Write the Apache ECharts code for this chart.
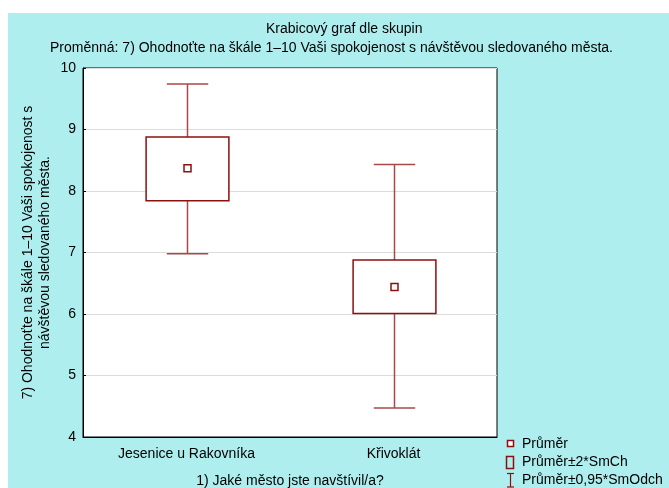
<!DOCTYPE html>
<html>
<head>
<meta charset="utf-8">
<script src="https://cdn.jsdelivr.net/npm/echarts@6/dist/echarts.min.js"></script>
<style>
  html, body { margin: 0; padding: 0; background: #fff; }
  #bg { position: absolute; left: 8px; top: 13px; width: 661px; height: 475px; background: #afeeee; }
  #chart { position: absolute; left: 0; top: 0; width: 669px; height: 488px; }
</style>
</head>
<body>
<div id="bg"></div>
<div id="chart"></div>
<script>
// skupiny a hodnoty
const categories = ['Jesenice u Rakovníka', 'Křivoklát']
const means = [8.37, 6.44]
const boxLow = [7.84, 6.01]    // průměr - 2*SmCh
const boxHigh = [8.88, 6.88]   // průměr + 2*SmCh
const whiskerLow = [6.98, 4.47]  // průměr - 0,95*SmOdch
const whiskerHigh = [9.74, 8.43] // průměr + 0,95*SmOdch
const yTicks = [4, 5, 6, 7, 8, 9, 10]

const boxColor = '#8b1010'
const whiskerColor = '#a84848'
const font = 'Liberation Sans, Arial, sans-serif'

const seriesData = categories.map((c, i) => [i, whiskerLow[i], boxLow[i], means[i], boxHigh[i], whiskerHigh[i]])

function renderBox (params, api) {
  const x = api.value(0)
  const band = api.size([1, 0])[0]
  const half = band * 0.2
  const cap = band * 0.1
  const pWL = api.coord([x, api.value(1)])
  const pBL = api.coord([x, api.value(2)])
  const pM = api.coord([x, api.value(3)])
  const pBH = api.coord([x, api.value(4)])
  const pWH = api.coord([x, api.value(5)])
  const cx = Math.round(pM[0]) + 0.5
  const line = { stroke: whiskerColor, lineWidth: 1.5 }
  return {
    type: 'group',
    children: [
      { type: 'line', shape: { x1: cx, y1: pWH[1], x2: cx, y2: pBH[1] }, style: line },
      { type: 'line', shape: { x1: cx, y1: pBL[1], x2: cx, y2: pWL[1] }, style: line },
      { type: 'line', shape: { x1: cx - cap, y1: pWH[1], x2: cx + cap, y2: pWH[1] }, style: line },
      { type: 'line', shape: { x1: cx - cap, y1: pWL[1], x2: cx + cap, y2: pWL[1] }, style: line },
      { type: 'rect', shape: { x: cx - half, y: pBH[1], width: half * 2, height: pBL[1] - pBH[1] },
        style: { fill: '#fff', stroke: boxColor, lineWidth: 1.5 } },
      { type: 'rect', shape: { x: cx - 3.5, y: pM[1] - 3.5, width: 7, height: 7 },
        style: { fill: '#fff', stroke: boxColor, lineWidth: 1.5 } }
    ]
  }
}

const legendItems = [
  { text: 'Průměr', y: 444 },
  { text: 'Průměr±2*SmCh', y: 462 },
  { text: 'Průměr±0,95*SmOdch', y: 480 }
]

const chart = echarts.init(document.getElementById('chart'))
chart.setOption({
  backgroundColor: 'transparent',
  animation: false,
  title: [{
    text: 'Krabicový graf dle skupin',
    left: 261,
    top: 17,
    textStyle: { fontFamily: font, fontSize: 14, fontWeight: 'normal', color: '#000' }
  }, {
    text: 'Proměnná: 7) Ohodnoťte na škále 1–10 Vaši spokojenost s návštěvou sledovaného města.',
    left: 45,
    top: 36,
    textStyle: { fontFamily: font, fontSize: 14, fontWeight: 'normal', color: '#000' }
  }],
  grid: {
    left: 83, right: 172, top: 68, bottom: 51,
    outerBoundsMode: 'none',
    show: true, backgroundColor: '#fff', borderColor: '#000', borderWidth: 1
  },
  xAxis: {
    type: 'category',
    data: categories,
    name: '1) Jaké město jste navštívil/a?',
    nameLocation: 'middle',
    nameGap: 37,
    nameMoveOverlap: false,
    nameTextStyle: { fontFamily: font, fontSize: 14, color: '#000' },
    axisLine: { lineStyle: { color: '#000' } },
    axisTick: { alignWithLabel: true, inside: true, length: 3, lineStyle: { color: '#000' } },
    axisLabel: { fontFamily: font, fontSize: 14, color: '#000', margin: 10 }
  },
  yAxis: {
    type: 'value',
    min: yTicks[0],
    max: yTicks[yTicks.length - 1],
    interval: 1,
    name: '7) Ohodnoťte na škále 1–10 Vaši spokojenost s\nnávštěvou sledovaného města.',
    nameLocation: 'middle',
    nameRotate: 90,
    nameGap: 29,
    nameMoveOverlap: false,
    nameTextStyle: { fontFamily: font, fontSize: 14, color: '#000', lineHeight: 17 },
    axisLine: { show: true, lineStyle: { color: '#000' } },
    axisTick: { show: true, inside: true, length: 3, lineStyle: { color: '#000' } },
    axisLabel: { fontFamily: font, fontSize: 14, color: '#000', margin: 7 },
    splitLine: { lineStyle: { color: '#dcdcdc' } }
  },
  series: [{
    type: 'custom',
    name: 'Průměr',
    renderItem: renderBox,
    encode: { x: 0, y: [1, 2, 3, 4, 5] },
    data: seriesData
  }],
  graphic: [
    { type: 'rect', shape: { x: 507.5, y: 440.5, width: 6, height: 6 }, style: { fill: '#fff', stroke: boxColor, lineWidth: 1.5 } },
    { type: 'rect', shape: { x: 506.5, y: 456.5, width: 7, height: 12 }, style: { fill: 'none', stroke: boxColor, lineWidth: 1.5 } },
    { type: 'line', shape: { x1: 507, y1: 473.5, x2: 514, y2: 473.5 }, style: { stroke: boxColor, lineWidth: 1.2 } },
    { type: 'line', shape: { x1: 510.5, y1: 473.5, x2: 510.5, y2: 487 }, style: { stroke: boxColor, lineWidth: 1.2 } },
    { type: 'line', shape: { x1: 507, y1: 487, x2: 514, y2: 487 }, style: { stroke: boxColor, lineWidth: 1.2 } }
  ].concat(legendItems.map(it => ({
    type: 'text', x: 522, y: it.y,
    style: { text: it.text, fontFamily: font, fontSize: 14, fill: '#000', verticalAlign: 'middle' }
  })))
})
</script>
</body>
</html>
